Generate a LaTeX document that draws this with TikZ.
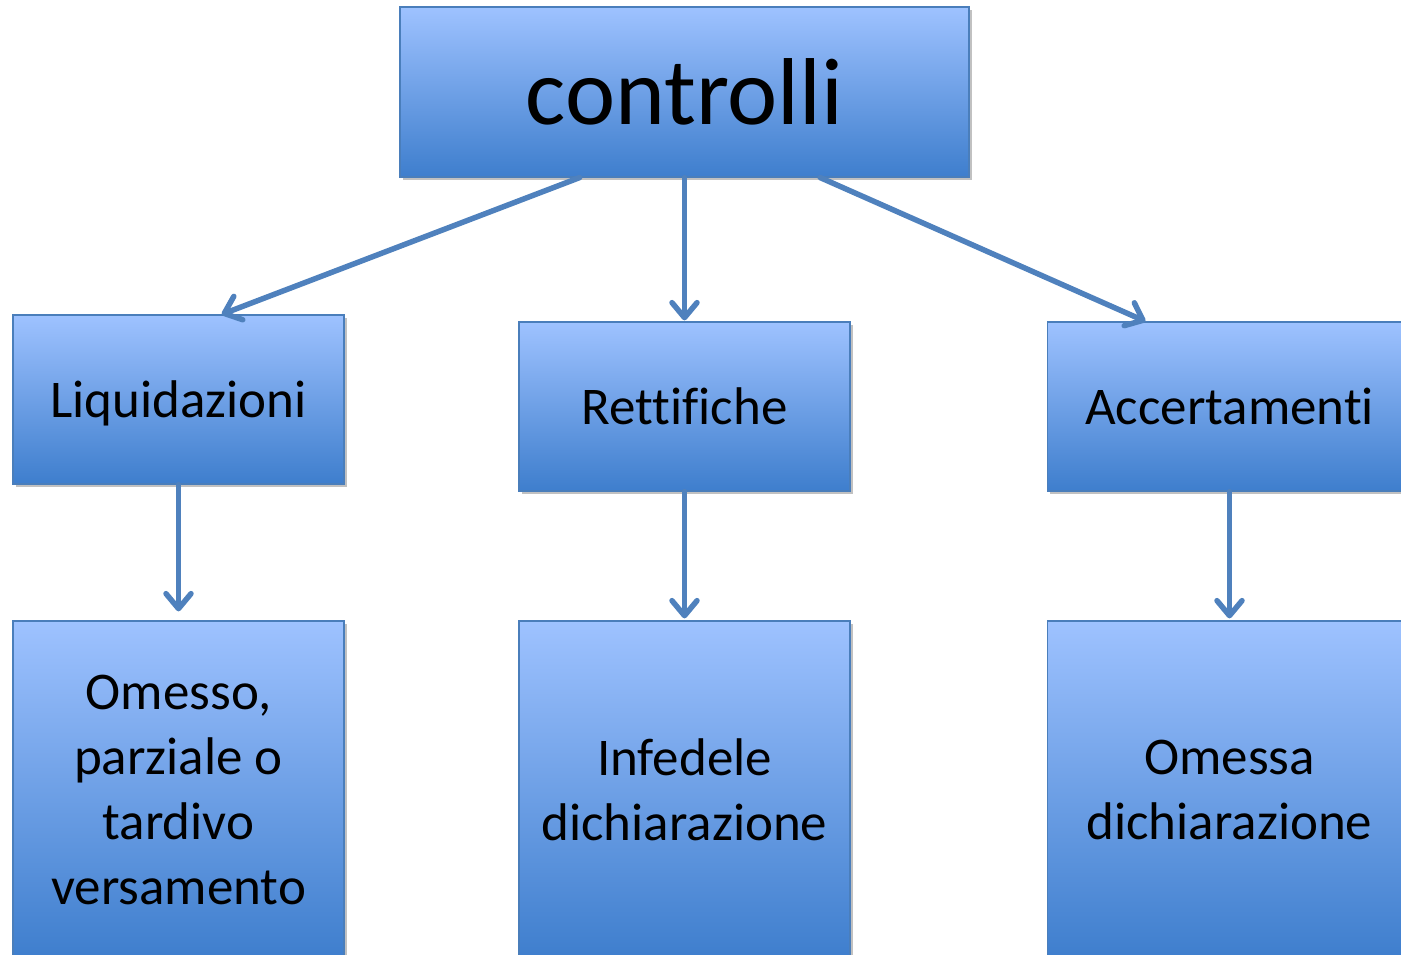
\documentclass[tikz,border=0pt]{standalone}
\usepackage{fontspec}
\setmainfont[Ligatures=NoCommon]{Carlito}
\usetikzlibrary{arrows.meta,shadows,calc}
\definecolor{boxtop}{RGB}{158,194,255}
\definecolor{boxbot}{RGB}{62,126,205}
\definecolor{boxedge}{RGB}{74,126,187}
\definecolor{arrowcol}{RGB}{79,129,189}
\tikzset{
  bluebox/.style={rectangle, inner sep=0pt, draw=boxedge, line width=1.2pt,
    top color=boxtop, bottom color=boxbot, align=center,
    drop shadow={shadow xshift=2.5pt, shadow yshift=-3pt, opacity=0.35, fill=black!70},
    font=\fontsize{53}{65}\selectfont},
  conn/.style={draw=arrowcol, line width=5.5pt, line cap=round,
    -{Straight Barb[length=15pt,width=25pt,line cap=round,line join=round]}},
}
\begin{document}
\begin{tikzpicture}[x=1pt,y=-1pt]
\clip (0,0) rectangle (1401,955);
\useasboundingbox (0,0) rectangle (1401,955);
\node[bluebox, minimum width=569pt, minimum height=170pt, font=\fontsize{95}{110}\selectfont] (ctrl) at (684.5,92) {controlli};
\node[bluebox, minimum width=331pt, minimum height=169pt, text depth=0pt] (liq) at (178.5,399.5) {Liquidazioni};
\node[bluebox, minimum width=331pt, minimum height=169pt] (rett) at (684.5,406.5) {Rettifiche};
\node[bluebox, minimum width=364pt, minimum height=169pt] (acc) at (1229.5,406.5) {Accertamenti};
\node[bluebox, minimum width=331pt, minimum height=338pt] (oms) at (178.5,790) {Omesso,\\parziale o\\tardivo\\versamento};
\node[bluebox, minimum width=331pt, minimum height=338pt] (inf) at (684.5,790) {Infedele\\dichiarazione};
\node[bluebox, minimum width=364pt, minimum height=338pt] (oma) at (1229.5,790) {Omessa\\dichiarazione};
\draw[conn] ($(ctrl.south west)!0.316!(ctrl.south east)$) -- ($(liq.north west)!0.63!(liq.north east)$);
\draw[conn, shorten >=1pt] (ctrl.south) -- (rett.north);
\draw[conn] ($(ctrl.south west)!0.738!(ctrl.south east)$) -- ($(acc.north west)!0.27!(acc.north east)$);
\draw[conn, shorten >=9pt] (liq.south) -- (oms.north);
\draw[conn, shorten >=2pt] (rett.south) -- (inf.north);
\draw[conn, shorten >=2pt] (acc.south) -- (oma.north);
\end{tikzpicture}
\end{document}
